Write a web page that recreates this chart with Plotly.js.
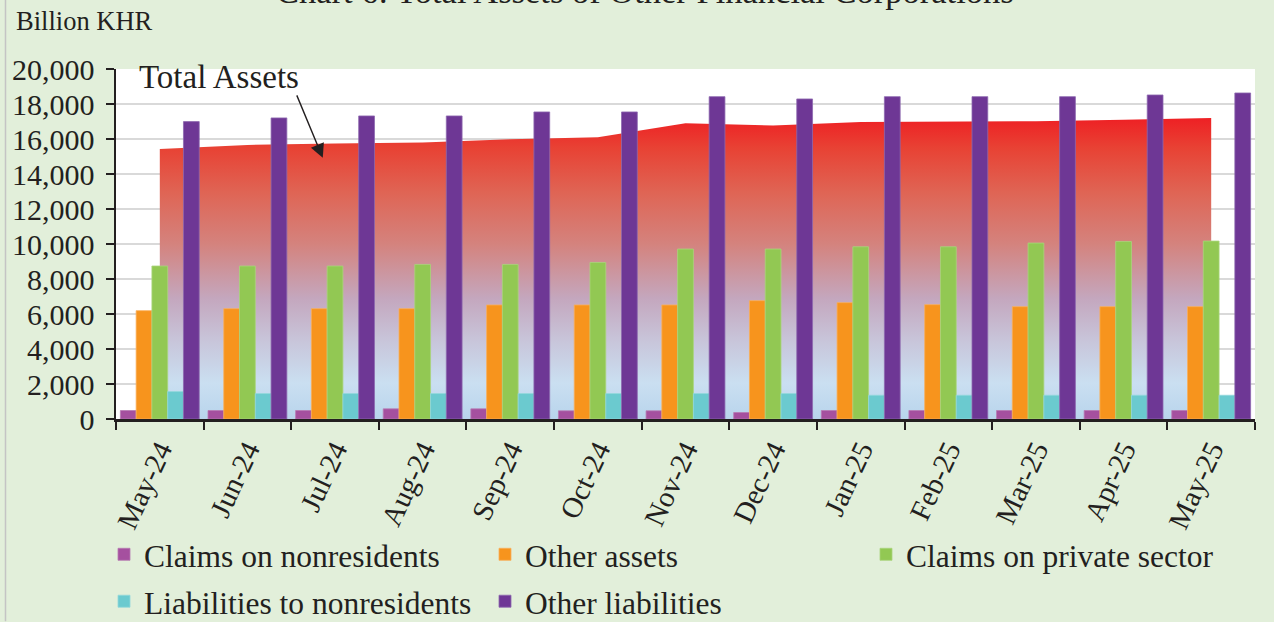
<!DOCTYPE html>
<html>
<head>
<meta charset="utf-8">
<script src="https://cdn.plot.ly/plotly-3.0.1.min.js"></script>
<style>
  html, body { margin: 0; padding: 0; background: #E2EFDA; }
  #chart { width: 1274px; height: 622px; }
</style>
</head>
<body>
<div id="chart"></div>
<script>
// ---- Data (Billion KHR) ----
const months = ['May-24','Jun-24','Jul-24','Aug-24','Sep-24','Oct-24','Nov-24','Dec-24','Jan-25','Feb-25','Mar-25','Apr-25','May-25'];
const totalAssets    = [15435, 15663, 15738, 15795, 15989, 16103, 16902, 16765, 16976, 16976, 17016, 17107, 17204];
const claimsNonres   = [485, 485, 485, 582, 582, 468, 468, 371, 485, 485, 485, 485, 485];
const otherAssets    = [6191, 6305, 6305, 6305, 6516, 6516, 6516, 6762, 6648, 6533, 6419, 6419, 6419];
const claimsPrivate  = [8742, 8742, 8742, 8833, 8833, 8947, 9712, 9712, 9843, 9843, 10054, 10146, 10168];
const liabNonres     = [1569, 1455, 1455, 1455, 1455, 1455, 1455, 1455, 1358, 1358, 1358, 1358, 1358];
const otherLiab      = [16993, 17204, 17318, 17318, 17546, 17546, 18420, 18288, 18420, 18420, 18420, 18516, 18630];
const seriesNames = ['Claims on nonresidents','Other assets','Claims on private sector','Liabilities to nonresidents','Other liabilities'];
const seriesValues = [claimsNonres, otherAssets, claimsPrivate, liabNonres, otherLiab];
const seriesColors = ['#A5509F','#F7941D','#92C853','#6BCACF','#6E3795'];
const seriesLines  = ['#B77AB2','#F9AE5A','#A9D47C','#93D8DC','#8D68AE'];
const seriesLegend = ['legend','legend','legend','legend2','legend2'];

const FONT = 'Liberation Serif, Times New Roman, serif';
const TXT = '#231F20';

const traces = [];
traces.push({
  type: 'scatter', mode: 'lines', x: months, y: totalAssets,
  xaxis: 'x', yaxis: 'y',
  line: { width: 0, color: 'rgba(0,0,0,0)' },
  fill: 'tozeroy',
  fillgradient: {
    type: 'vertical', start: 0, stop: 17204,
    colorscale: [
      [0.00, '#B8D4EC'],
      [0.12, '#CADFF1'],
      [0.26, '#C8C5DA'],
      [0.40, '#C4A7BE'],
      [0.58, '#D4837E'],
      [0.75, '#DF6555'],
      [0.90, '#E84234'],
      [1.00, '#EE2024']
    ]
  },
  showlegend: false, hoverinfo: 'skip'
});
for (let i = 0; i < seriesNames.length; i++) {
  traces.push({
    type: 'bar', name: seriesNames[i], x: months, y: seriesValues[i],
    xaxis: 'x', yaxis: 'y2', legend: seriesLegend[i],
    marker: { color: seriesColors[i], line: { color: seriesLines[i], width: 0.8 } }
  });
}

const plotH = 622 - 69 - 202.5;
const plotW = 1274 - 116 - 19;
const py = px => (419.5 - px) / plotH;
const pxX = px => (px - 116) / plotW;

const legendBase = {
  orientation: 'h', xanchor: 'left', yanchor: 'middle',
  font: { family: FONT, size: 31.5, color: TXT },
  entrywidth: 336, entrywidthmode: 'pixels',
  bgcolor: 'rgba(0,0,0,0)', traceorder: 'normal'
};

const layout = {
  width: 1274, height: 622,
  margin: { l: 116, r: 19, t: 69, b: 202.5, pad: 0, autoexpand: false },
  paper_bgcolor: '#E2EFDA',
  plot_bgcolor: '#FFFFFF',
  font: { family: FONT, color: TXT, size: 28 },
  barmode: 'group', bargap: 0.1, bargroupgap: 0,
  showlegend: true,
  xaxis: {
    type: 'category', showgrid: false, showline: true, linecolor: '#231F20', linewidth: 2.5,
    ticks: 'outside', tickson: 'boundaries', ticklen: 8, tickwidth: 2, tickcolor: '#231F20',
    tickangle: -65, tickfont: { family: FONT, size: 29, color: TXT },
    zeroline: false, fixedrange: true, automargin: false
  },
  yaxis: {
    range: [0, 20000], dtick: 2000, tickformat: ',d',
    showgrid: true, gridcolor: '#D9D9D9', gridwidth: 2.5,
    showline: true, linecolor: '#231F20', linewidth: 2.5,
    ticks: 'outside', ticklen: 8, tickwidth: 2, tickcolor: '#231F20',
    tickfont: { family: FONT, size: 30, color: TXT },
    ticklabelstandoff: 5,
    zeroline: false, fixedrange: true, automargin: false
  },
  yaxis2: {
    overlaying: 'y', range: [0, 20000], visible: false, showgrid: false, zeroline: false, fixedrange: true
  },
  legend: Object.assign({}, legendBase, { x: pxX(104), y: py(555) }),
  legend2: Object.assign({}, legendBase, { x: pxX(104), y: py(602) }),
  annotations: [
    { text: 'Chart 6: Total Assets of Other Financial Corporations', xref: 'paper', yref: 'paper',
      x: pxX(645), y: py(0), xanchor: 'center', yanchor: 'bottom', yshift: -12, showarrow: false,
      font: { family: FONT, size: 34.5, color: TXT } },
    { text: 'Billion KHR', xref: 'paper', yref: 'paper', x: pxX(14), y: py(21),
      xanchor: 'left', yanchor: 'middle', showarrow: false,
      font: { family: FONT, size: 26.5, color: TXT } },
    { text: 'Total Assets', xref: 'x', yref: 'y', x: 0.676, y: 19543,
      xanchor: 'center', yanchor: 'middle', showarrow: false,
      font: { family: FONT, size: 33, color: TXT } },
    { text: ' ', xref: 'x', yref: 'y', x: 1.86, y: 14922, ax: -27, ay: -65,
      showarrow: true, arrowhead: 2, arrowsize: 2, arrowwidth: 1.4, arrowcolor: '#231F20',
      font: { size: 2 } }
  ],
  shapes: [
    { type: 'line', xref: 'paper', yref: 'paper', x0: pxX(5.5), x1: pxX(5.5), y0: py(622), y1: py(0),
      line: { color: '#C4C4C4', width: 1.5 } }
  ]
};

Plotly.newPlot('chart', traces, layout, { staticPlot: true, displayModeBar: false });
</script>
</body>
</html>
